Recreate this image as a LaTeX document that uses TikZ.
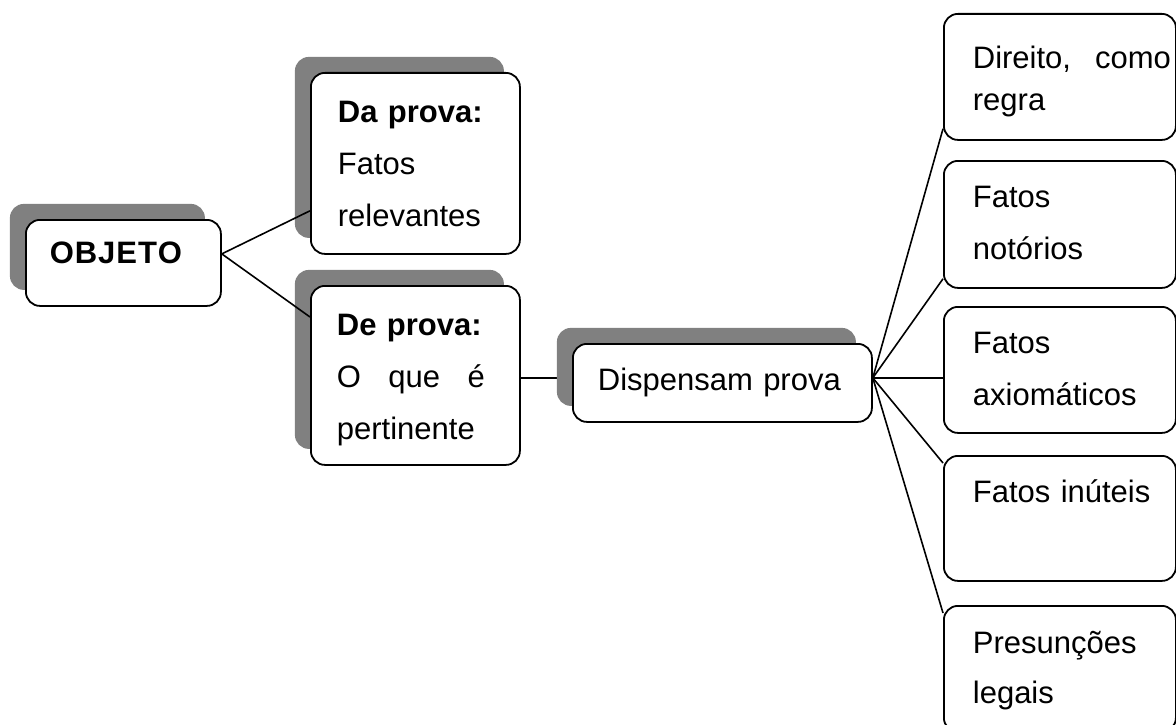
\documentclass[tikz,border=0pt]{standalone}
\usepackage{fontspec}
\setmainfont{Liberation Sans}
\usetikzlibrary{shadows,calc,backgrounds}

\tikzset{
  caixa/.style={draw,line width=1.8pt,rounded corners=14pt,fill=white,inner ysep=0pt,
    anchor=north west,align=left,font=\fontsize{31}{52}\selectfont},
  sombra/.style={drop shadow={shadow xshift=-16pt,shadow yshift=16pt,fill=black!50,opacity=1}},
  ligacao/.style={line width=1.6pt}
}

\begin{document}
\begin{tikzpicture}[x=1pt,y=-1pt]
\useasboundingbox (0,0) rectangle (1176,725);

\node[caixa,sombra,inner xsep=24pt,text width=147pt,text height=44pt,text depth=42pt] (objeto) at (25,219) {\textbf{\makebox[133pt][l]{O\hfil B\hfil J\hfil E\hfil T\hfil O}}};
\node[caixa,sombra,inner xsep=27pt,text width=155pt,text height=50pt,text depth=131pt] (daprova) at (310,72) {\textbf{Da prova:}\\Fatos\\relevantes};
\node[caixa,sombra,inner xsep=26pt,text width=157pt,text height=50pt,text depth=129pt] (deprova) at (310,285) {\textbf{De prova:}\\\makebox[148pt][l]{O\hfill que\hfill é}\\pertinente};
\node[caixa,sombra,inner xsep=25pt,text width=249pt,text height=47pt,text depth=31pt] (dispensam) at (572,343) {\mbox{Dispensam prova}};

\node[caixa,inner xsep=29pt,text width=174pt,text height=55pt,text depth=71pt,font=\fontsize{31}{42}\selectfont] (direito) at (943,13) {\makebox[198pt][l]{Direito,\hfill como}\\regra};
\node[caixa,inner xsep=29pt,text width=174pt,text height=47pt,text depth=80pt] (notorios) at (943,160) {Fatos\\notórios};
\node[caixa,inner xsep=29pt,text width=174pt,text height=47pt,text depth=79pt] (axiomaticos) at (943,306) {Fatos\\axiomáticos};
\node[caixa,inner xsep=29pt,text width=174pt,text height=47pt,text depth=78pt] (inuteis) at (943,455) {\mbox{Fatos inúteis}};
\node[caixa,inner xsep=29pt,text width=174pt,text height=48pt,text depth=78pt,font=\fontsize{31}{50}\selectfont] (presuncoes) at (943,605) {Presunções\\legais};

\coordinate (raiz) at ($(objeto.east)+(0,-9)$);
\coordinate (leque) at ($(dispensam.east)+(0,-5)$);

\draw[ligacao] ($(daprova.south west)+(0,-44)$) -- (raiz) -- ($(deprova.north west)+(0,32)$);
\begin{scope}[on background layer]
\draw[ligacao] (deprova.east |- leque) -- (dispensam.west |- leque);
\end{scope}

\draw[ligacao] (leque) -- ($(direito.south west)+(0,-12)$);
\draw[ligacao] (leque) -- ($(notorios.south west)+(0,-10)$);
\draw[ligacao] (leque) -- (axiomaticos.west |- leque);
\draw[ligacao] (leque) -- ($(inuteis.north west)+(0,8)$);
\draw[ligacao] (leque) -- ($(presuncoes.north west)+(0,8)$);
\end{tikzpicture}
\end{document}
